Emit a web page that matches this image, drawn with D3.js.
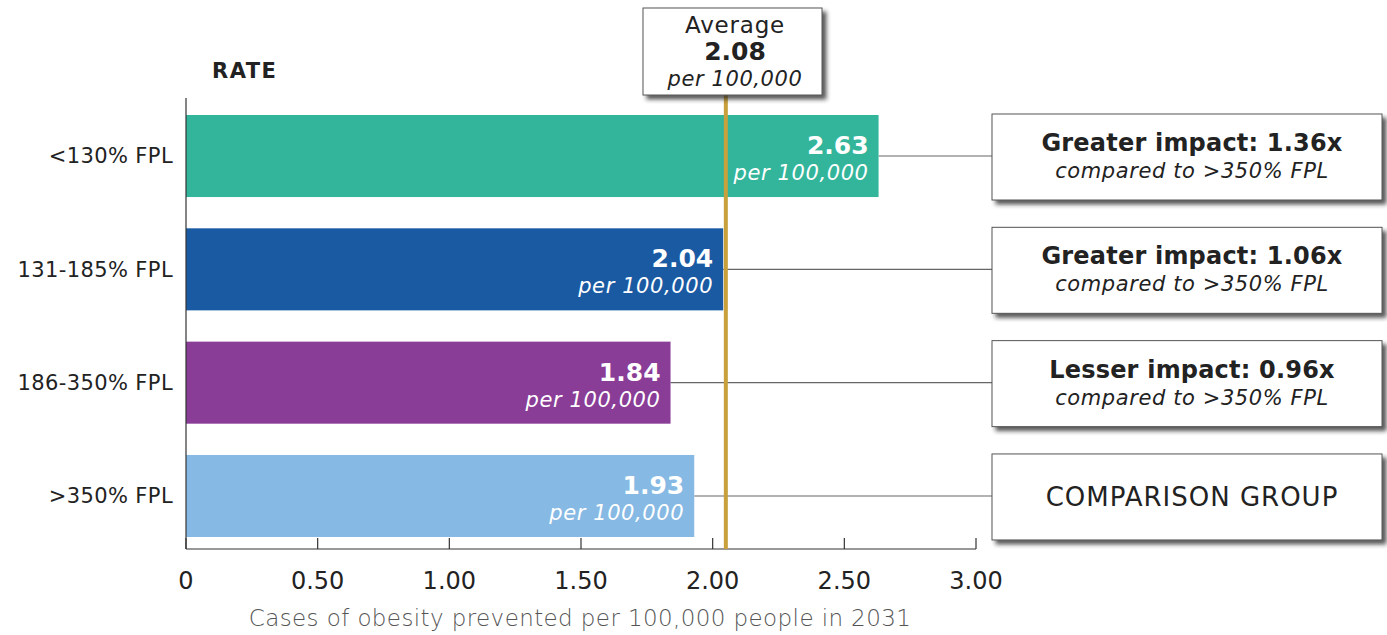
<!DOCTYPE html>
<html>
<head>
<meta charset="utf-8">
<script src="https://cdn.jsdelivr.net/npm/d3@7"></script>
<style>
  body { margin: 0; background: #fff; }
  text { font-family: "DejaVu Sans", sans-serif; }
</style>
</head>
<body>
<script>
// data
var groups = ["<130% FPL", "131-185% FPL", "186-350% FPL", ">350% FPL"];
var rates = [2.63, 2.04, 1.84, 1.93];
var colors = ["#33b59b", "#1a5aa3", "#893d97", "#86b9e3"];
var impactTitles = ["Greater impact: 1.36x", "Greater impact: 1.06x", "Lesser impact: 0.96x", "COMPARISON GROUP"];
var impactNotes = ["compared to >350% FPL", "compared to >350% FPL", "compared to >350% FPL", ""];
var ticks = [0, 0.5, 1, 1.5, 2, 2.5, 3];
var avgLabel = "2.08";
var avgLine = 2.05;   // where the line sits in the picture

var width = 1387,
    height = 635;

var axis_y = 549;

var svg = d3.select("body").append("svg")
    .attr("width", width)
    .attr("height", height);

var defs = svg.append("defs");
var f = defs.append("filter").attr("id", "shadow")
    .attr("x", "-5%").attr("y", "-10%").attr("width", "115%").attr("height", "130%");
f.append("feDropShadow")
    .attr("dx", 4).attr("dy", 4)
    .attr("stdDeviation", 2)
    .attr("flood-color", "#222")
    .attr("flood-opacity", 0.75);

var x = d3.scaleLinear().domain([0, 3]).range([186, 976]);
var y = d3.scaleBand().domain(groups).range([98, 554])
    .paddingInner(0.276).paddingOuter(0.15);

// connectors to the boxes
svg.selectAll("line.conn")
    .data(groups)
  .enter().append("line")
    .attr("class", "conn")
    .attr("x1", function(d, i){ return x(rates[i]); })
    .attr("x2", 992)
    .attr("y1", function(d){ return y(d) + y.bandwidth() / 2; })
    .attr("y2", function(d){ return y(d) + y.bandwidth() / 2; })
    .attr("stroke", "#666")
    .attr("stroke-width", 1.2);

// bars
svg.selectAll("rect.bar")
    .data(groups)
  .enter().append("rect")
    .attr("class", "bar")
    .attr("x", x(0))
    .attr("y", function(d){ return y(d); })
    .attr("width", function(d, i){ return x(rates[i]) - x(0); })
    .attr("height", y.bandwidth())
    .attr("fill", function(d, i){ return colors[i]; });

svg.selectAll("text.val")
    .data(groups)
  .enter().append("text")
    .attr("class", "val")
    .attr("x", function(d, i){ return x(rates[i]) - 10; })
    .attr("y", function(d){ return y(d) + 39; })
    .attr("text-anchor", "end")
    .attr("fill", "#fff")
    .style("font-size", "25px")
    .style("font-weight", "bold")
    .text(function(d, i){ return rates[i].toFixed(2); });

svg.selectAll("text.per")
    .data(groups)
  .enter().append("text")
    .attr("class", "per")
    .attr("x", function(d, i){ return x(rates[i]) - 10; })
    .attr("y", function(d){ return y(d) + 65; })
    .attr("text-anchor", "end")
    .attr("fill", "#fff")
    .style("font-size", "21px")
    .style("letter-spacing", "0.6px")
    .style("font-style", "italic")
    .text("per 100,000");

// category labels
svg.selectAll("text.cat")
    .data(groups)
  .enter().append("text")
    .attr("class", "cat")
    .attr("x", 173)
    .attr("y", function(d){ return y(d) + y.bandwidth() / 2; })
    .attr("dy", "0.35em")
    .attr("text-anchor", "end")
    .attr("fill", "#222")
    .style("font-size", "21px")
    .style("letter-spacing", "0.4px")
    .text(function(d){ return d; });

svg.append("text")
    .attr("x", 212).attr("y", 78)
    .attr("fill", "#222")
    .style("font-size", "21px")
    .style("letter-spacing", "1.5px")
    .style("font-weight", "bold")
    .text("RATE");

// axes
svg.append("line")
    .attr("x1", x(0)).attr("x2", x(0))
    .attr("y1", 98).attr("y2", axis_y)
    .attr("stroke", "#333").attr("stroke-width", 1.2);

svg.append("line")
    .attr("x1", x(0)).attr("x2", x(3))
    .attr("y1", axis_y).attr("y2", axis_y)
    .attr("stroke", "#333").attr("stroke-width", 1.2);

svg.selectAll("line.tick")
    .data(ticks)
  .enter().append("line")
    .attr("class", "tick")
    .attr("x1", function(d){ return x(d); })
    .attr("x2", function(d){ return x(d); })
    .attr("y1", axis_y - 11).attr("y2", axis_y)
    .attr("stroke", "#333").attr("stroke-width", 1.2);

svg.selectAll("text.tick")
    .data(ticks)
  .enter().append("text")
    .attr("class", "tick")
    .attr("x", function(d){ return x(d); })
    .attr("y", 589)
    .attr("text-anchor", "middle")
    .attr("fill", "#222")
    .style("font-size", "24px")
    .text(function(d){ return d === 0 ? "0" : d.toFixed(2); });

svg.append("text")
    .attr("x", 580).attr("y", 626)
    .attr("text-anchor", "middle")
    .attr("fill", "#555")
    .style("font-size", "23px")
    .style("letter-spacing", "0.4px")
    .style("font-weight", "200")
    .text("Cases of obesity prevented per 100,000 people in 2031");

// average line and box
svg.append("line")
    .attr("x1", x(avgLine)).attr("x2", x(avgLine))
    .attr("y1", 95).attr("y2", axis_y)
    .attr("stroke", "#c8a03c").attr("stroke-width", 4);

svg.append("rect")
    .attr("x", 643).attr("y", 8)
    .attr("width", 179).attr("height", 87)
    .attr("fill", "#fff")
    .attr("stroke", "#555").attr("stroke-width", 1)
    .attr("filter", "url(#shadow)");

svg.append("text")
    .attr("x", 735).attr("y", 33)
    .attr("text-anchor", "middle").attr("fill", "#222")
    .style("font-size", "23px")
    .style("letter-spacing", "0.8px")
    .text("Average");
svg.append("text")
    .attr("x", 735).attr("y", 60)
    .attr("text-anchor", "middle").attr("fill", "#222")
    .style("font-size", "25px").style("font-weight", "bold")
    .text(avgLabel);
svg.append("text")
    .attr("x", 735).attr("y", 86)
    .attr("text-anchor", "middle").attr("fill", "#222")
    .style("font-size", "21px").style("font-style", "italic")
    .style("letter-spacing", "0.6px")
    .text("per 100,000");

// impact boxes
var box = svg.selectAll("g.box")
    .data(groups)
  .enter().append("g")
    .attr("class", "box")
    .attr("transform", function(d){ return "translate(992," + (y(d) - 1) + ")"; });

box.append("rect")
    .attr("width", 390).attr("height", 86)
    .attr("fill", "#fff")
    .attr("stroke", "#555").attr("stroke-width", 1)
    .attr("filter", "url(#shadow)");

box.append("text")
    .attr("x", 200)
    .attr("y", function(d, i){ return impactNotes[i] ? 37 : 52; })
    .attr("text-anchor", "middle").attr("fill", "#222")
    .style("font-size", function(d, i){ return impactNotes[i] ? "24px" : "26px"; })
    .style("letter-spacing", function(d, i){ return impactNotes[i] ? "0.2px" : "1px"; })
    .style("font-weight", function(d, i){ return impactNotes[i] ? "bold" : "normal"; })
    .text(function(d, i){ return impactTitles[i]; });

box.append("text")
    .attr("x", 200).attr("y", 64)
    .attr("text-anchor", "middle").attr("fill", "#222")
    .style("font-size", "21px").style("font-style", "italic")
    .style("letter-spacing", "0.6px")
    .text(function(d, i){ return impactNotes[i]; });
</script>
</body>
</html>
